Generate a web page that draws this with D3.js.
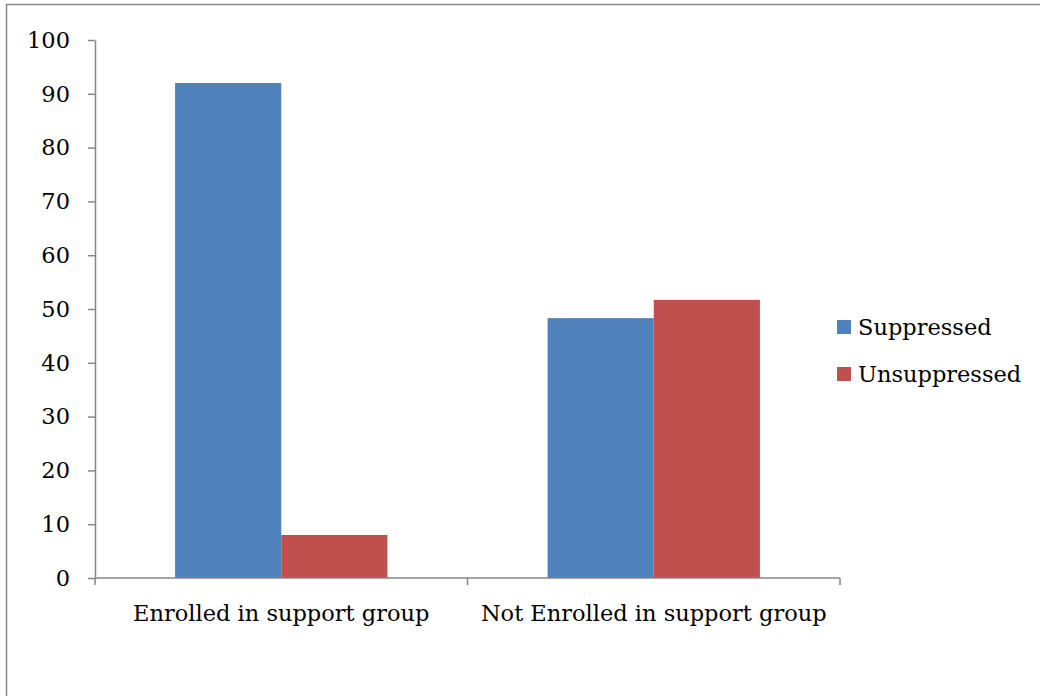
<!DOCTYPE html>
<html>
<head>
<meta charset="utf-8">
<script src="https://cdn.jsdelivr.net/npm/d3@7"></script>
<style>
  body { margin: 0; background: #fff; }
  text { font-family: "DejaVu Serif", "Liberation Serif", serif; fill: #000; }
</style>
</head>
<body>
<svg id="chart" width="1040" height="696"></svg>
<script>
const categories = ['Enrolled in support group', 'Not Enrolled in support group'];
const seriesNames = ['Suppressed', 'Unsuppressed'];
const suppressed = [92, 48.3];
const unsuppressed = [8, 51.7];
const yTicks = [0, 10, 20, 30, 40, 50, 60, 70, 80, 90, 100];

const colors = { Suppressed: '#4F81BD', Unsuppressed: '#C0504D' };
const axisColor = '#868686';
const fontSize = 22.5;

const svg = d3.select('#chart');

// outer chart border
svg.append('rect')
  .attr('x', 6.5).attr('y', 4.5)
  .attr('width', 1100).attr('height', 800)
  .attr('fill', 'none')
  .attr('stroke', axisColor)
  .attr('stroke-width', 1.5);

const plot = { left: 95, right: 840, top: 40, bottom: 578 };

const y = d3.scaleLinear().domain([0, 100]).range([plot.bottom, plot.top]);
const x0 = d3.scaleBand().domain(categories).range([plot.left, plot.right]).padding(0);
const groupW = x0.step() * 0.57;
const x1 = d3.scaleBand().domain(seriesNames).range([0, groupW]).padding(0);

const rows = categories.map((c, i) => ({
  cat: c,
  values: [
    { key: 'Suppressed', value: suppressed[i] },
    { key: 'Unsuppressed', value: unsuppressed[i] }
  ]
}));

// bars
const groups = svg.append('g').selectAll('g')
  .data(rows)
  .join('g')
  .attr('transform', d => `translate(${x0(d.cat) + (x0.bandwidth() - groupW) / 2},0)`);

groups.selectAll('rect')
  .data(d => d.values)
  .join('rect')
  .attr('x', d => x1(d.key))
  .attr('y', d => y(d.value))
  .attr('width', x1.bandwidth())
  .attr('height', d => y(0) - y(d.value))
  .attr('fill', d => colors[d.key]);

// y axis
const yAxis = svg.append('g')
  .attr('transform', `translate(${plot.left},0)`)
  .call(d3.axisLeft(y).tickValues(yTicks).tickSize(7).tickPadding(18).tickSizeOuter(0));
yAxis.select('.domain').attr('stroke', axisColor).attr('stroke-width', 1.5);
yAxis.selectAll('.tick line').attr('stroke', axisColor).attr('stroke-width', 1.5);
yAxis.selectAll('.tick text')
  .attr('font-family', '"DejaVu Serif", serif')
  .attr('font-size', fontSize)
  .attr('fill', '#000');

// x axis
const xAxisG = svg.append('g').attr('transform', `translate(0,${plot.bottom})`);
xAxisG.append('line')
  .attr('x1', plot.left).attr('x2', plot.right)
  .attr('stroke', axisColor).attr('stroke-width', 1.5);
const xBounds = [plot.left, ...categories.map(c => x0(c) + x0.bandwidth())];
xAxisG.selectAll('line.xt')
  .data(xBounds)
  .join('line')
  .attr('class', 'xt')
  .attr('x1', d => d).attr('x2', d => d)
  .attr('y1', 0).attr('y2', 7)
  .attr('stroke', axisColor).attr('stroke-width', 1.5);
xAxisG.selectAll('text')
  .data(categories)
  .join('text')
  .attr('x', d => x0(d) + x0.bandwidth() / 2)
  .attr('y', 43)
  .attr('text-anchor', 'middle')
  .attr('font-size', fontSize)
  .text(d => d);

// legend
const legend = svg.append('g').attr('transform', 'translate(837,320)');
const li = legend.selectAll('g')
  .data(seriesNames)
  .join('g')
  .attr('transform', (d, i) => `translate(0,${i * 47})`);
li.append('rect')
  .attr('width', 14).attr('height', 14)
  .attr('fill', d => colors[d]);
li.append('text')
  .attr('x', 21).attr('y', 15)
  .attr('font-size', fontSize)
  .text(d => d);
</script>
</body>
</html>
